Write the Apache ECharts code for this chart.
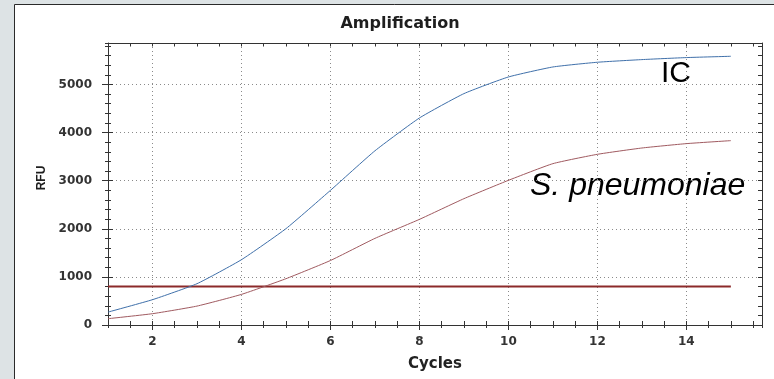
<!DOCTYPE html>
<html>
<head>
<meta charset="utf-8">
<script src="https://cdn.jsdelivr.net/npm/echarts@6/dist/echarts.min.js"></script>
<style>
  html, body { margin: 0; padding: 0; background: #dde3e5; }
  #chart { width: 774px; height: 379px; }
</style>
</head>
<body>
<div id="chart"></div>
<script>
// Amplification curves (RFU per cycle)
const cycles = [1, 2, 3, 4, 5, 6, 7, 8, 9, 10, 11, 12, 13, 14, 15];
const icRFU = [268, 526, 858, 1357, 2002, 2798, 3620, 4302, 4808, 5154, 5362, 5460, 5515, 5557, 5584];
const pneumoRFU = [131, 235, 393, 636, 962, 1340, 1800, 2195, 2625, 3006, 3353, 3547, 3678, 3769, 3831];
const thresholdRFU = 800;

// Axis tick labels
const xMajorTicks = [2, 4, 6, 8, 10, 12, 14];
const yMajorTicks = [0, 1000, 2000, 3000, 4000, 5000];
const xMinorStep = 0.5;
const yMinorStep = 200;
const yMajorStep = 1000;

const X_MIN = 1, X_MAX = 15.7, Y_MIN = 0, Y_MAX = 5860;
const FRAME = '#333';
const FONT = 'DejaVu Sans';

function xAxisBase(extra) {
  return Object.assign({
    type: 'value', min: X_MIN, max: X_MAX, position: 'bottom',
    axisLine: { show: false }, axisLabel: { show: false },
    splitLine: { show: false }, axisTick: { show: false }
  }, extra);
}
function yAxisBase(extra) {
  return Object.assign({
    type: 'value', min: Y_MIN, max: Y_MAX, position: 'left',
    axisLine: { show: false }, axisLabel: { show: false },
    splitLine: { show: false }, axisTick: { show: false }
  }, extra);
}
// Tick-only axis: evenly spaced ticks counted from the axis minimum
const tick = (inside, length) => ({
  show: true, inside: inside, length: length,
  lineStyle: { color: FRAME, width: 1 }
});

const chart = echarts.init(document.getElementById('chart'), null, { renderer: 'canvas' });

chart.setOption({
  backgroundColor: '#dde3e5',
  animation: false,
  graphic: [
    {
      type: 'rect', z: -10, silent: true,
      shape: { x: 14.5, y: 4.5, width: 800, height: 400 },
      style: { fill: '#ffffff', stroke: '#2a2a2a', lineWidth: 1 }
    },
    {
      type: 'text', x: 400, y: 24,
      style: {
        text: 'Amplification', textAlign: 'center', textVerticalAlign: 'middle',
        font: 'bold 16px "DejaVu Sans"', fill: '#1e1e1e'
      }
    },
    {
      type: 'text', x: 661, y: 74,
      style: {
        text: 'IC', textAlign: 'left', textVerticalAlign: 'middle',
        font: '30px "Liberation Sans"', fill: '#000'
      }
    },
    {
      type: 'text', x: 530, y: 186,
      style: {
        text: 'S. pneumoniae', textAlign: 'left', textVerticalAlign: 'middle',
        font: 'italic 32px "Liberation Sans"', fill: '#000'
      }
    }
  ],
  grid: { left: 108, right: 12, top: 43, bottom: 54, show: false },
  xAxis: [
    // main axis: labels, major ticks outward, dotted grid
    xAxisBase({
      axisLine: { show: true, lineStyle: { color: FRAME, width: 1 } },
      axisTick: {
        show: true, customValues: xMajorTicks, inside: false, length: 5,
        lineStyle: { color: FRAME, width: 1 }
      },
      axisLabel: {
        show: true, customValues: xMajorTicks, margin: 11,
        color: '#333', fontFamily: FONT, fontWeight: 'bold', fontSize: 12,
        formatter: (v) => String(v)
      },
      splitLine: { show: true, lineStyle: { color: '#8a8a8a', type: [1, 3], width: 1 } },
      name: 'Cycles', nameLocation: 'middle', nameGap: 32,
      nameTextStyle: { color: '#222', fontFamily: FONT, fontWeight: 'bold', fontSize: 15 }
    }),
    xAxisBase({ interval: xMinorStep, axisTick: tick(false, 3) }),
    xAxisBase({ interval: xMinorStep, axisTick: tick(true, 4) }),
    // top frame edge with inward ticks
    xAxisBase({
      position: 'top', interval: xMinorStep,
      axisLine: { show: true, onZero: false, lineStyle: { color: FRAME, width: 1 } },
      axisTick: tick(true, 3.5)
    })
  ],
  yAxis: [
    yAxisBase({
      axisLine: { show: true, lineStyle: { color: FRAME, width: 1 } },
      axisTick: {
        show: true, customValues: yMajorTicks, inside: false, length: 6,
        lineStyle: { color: FRAME, width: 1 }
      },
      axisLabel: {
        show: true, customValues: yMajorTicks, margin: 16,
        color: '#333', fontFamily: FONT, fontWeight: 'bold', fontSize: 12,
        formatter: (v) => String(v)
      },
      splitLine: { show: true, lineStyle: { color: '#8a8a8a', type: [1, 3], width: 1 } },
      name: 'RFU', nameLocation: 'middle', nameGap: 60, nameRotate: 90,
      nameTextStyle: { color: '#1e1e1e', fontFamily: 'Liberation Sans', fontWeight: 'bold', fontSize: 12, padding: [0, 0, 0, 12] }
    }),
    yAxisBase({ interval: yMajorStep, axisTick: tick(true, 5) }),
    yAxisBase({ interval: yMinorStep, axisTick: tick(false, 3) }),
    yAxisBase({ interval: yMinorStep, axisTick: tick(true, 3) }),
    // right frame edge with inward ticks
    yAxisBase({
      position: 'right', interval: yMinorStep,
      axisLine: { show: true, onZero: false, lineStyle: { color: FRAME, width: 1 } },
      axisTick: tick(true, 4)
    })
  ],
  series: [
    {
      name: 'Threshold', type: 'line', symbol: 'none',
      data: [[cycles[0], thresholdRFU], [cycles[cycles.length - 1], thresholdRFU]],
      lineStyle: { color: '#8c2a2a', width: 2 }, z: 3
    },
    {
      name: 'IC', type: 'line', symbol: 'none', smooth: 0.15,
      data: cycles.map((c, i) => [c, icRFU[i]]),
      lineStyle: { color: '#3f70aa', width: 1 }, z: 4
    },
    {
      name: 'S. pneumoniae', type: 'line', symbol: 'none', smooth: 0.15,
      data: cycles.map((c, i) => [c, pneumoRFU[i]]),
      lineStyle: { color: '#a05a60', width: 1 }, z: 4
    }
  ]
});
</script>
</body>
</html>
